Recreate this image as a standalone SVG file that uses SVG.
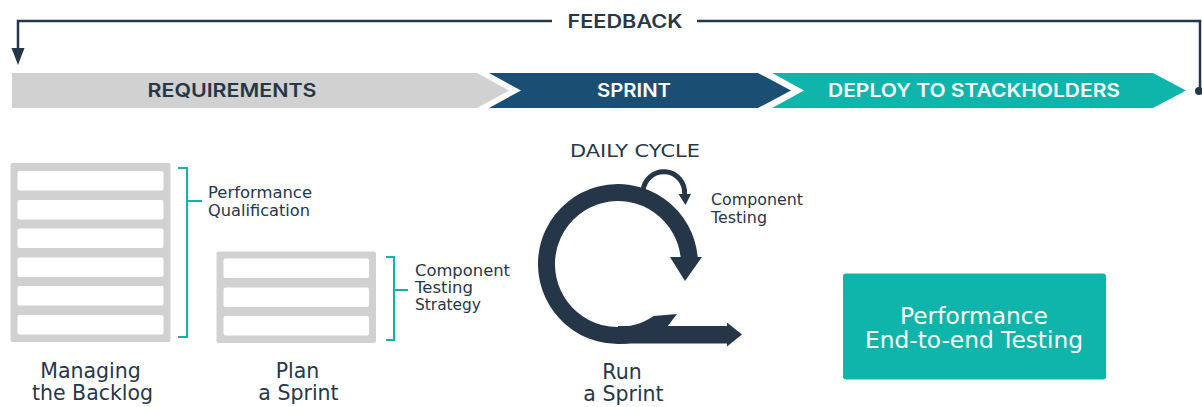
<svg xmlns="http://www.w3.org/2000/svg" width="1202" height="407" viewBox="0 0 1202 407">
<defs>
<style>
.t{font-family:"DejaVu Sans","Liberation Sans",sans-serif;fill:#263749}
.b{font-family:Inter,"DejaVu Sans",sans-serif;font-weight:600}
.w{fill:#ffffff}
.bar{fill:#ffffff}
.box{fill:#d0d1d0}
.br{fill:none;stroke:#12b3a8;stroke-width:2}
.ln{fill:none;stroke:#263749;stroke-width:2.5}
.nav{fill:#253649}
</style>
</defs>
<rect width="1202" height="407" fill="#ffffff"/>

<g id="connectors">
<polyline class="ln" points="552,21 18,21 18,50"/>
<polygon class="nav" points="11.5,48 24.5,48 18,65"/>
<polyline class="ln" points="697,21 1200,21 1200,91"/>
<circle class="nav" cx="1199" cy="91" r="4"/>
</g>
<g id="feedback"><text class="t b" x="625" y="27.5" font-size="18" text-anchor="middle" textLength="115" lengthAdjust="spacingAndGlyphs">FEEDBACK</text></g>

<g id="requirements">
<polygon fill="#d0d1d0" points="12,73 477,73 509,90.5 477,108 12,108"/>
<text class="t b" x="232" y="97" font-size="18.5" text-anchor="middle" textLength="169" lengthAdjust="spacingAndGlyphs">REQUIREMENTS</text>
</g>
<g id="sprint">
<polygon fill="#1a4e73" points="489,73 758,73 791,90.5 758,108 489,108 521,90.5"/>
<text class="t b w" x="634" y="97" font-size="18.5" text-anchor="middle" textLength="74" lengthAdjust="spacingAndGlyphs">SPRINT</text>
</g>
<g id="deploy">
<polygon fill="#0fb5aa" points="772,73 1153,73 1186,90.5 1153,108 772,108 804,90.5"/>
<text class="t b w" x="974" y="97" font-size="18.5" text-anchor="middle" textLength="292" lengthAdjust="spacingAndGlyphs">DEPLOY TO STACKHOLDERS</text>
</g>

<g id="backlog">
<rect class="box" x="10.5" y="163" width="160" height="179" rx="2"/>
<rect class="bar" x="17.5" y="171" width="146" height="19.5" rx="2"/>
<rect class="bar" x="17.5" y="200" width="146" height="19.5" rx="2"/>
<rect class="bar" x="17.5" y="228.5" width="146" height="19.5" rx="2"/>
<rect class="bar" x="17.5" y="257.5" width="146" height="19.5" rx="2"/>
<rect class="bar" x="17.5" y="286" width="146" height="19.5" rx="2"/>
<rect class="bar" x="17.5" y="315" width="146" height="19.5" rx="2"/>
<text class="t" x="90.5" y="378" font-size="20.5" text-anchor="middle">Managing</text>
<text class="t" x="92.5" y="400" font-size="20.5" text-anchor="middle">the Backlog</text>
</g>
<g id="perf-qual">
<polyline class="br" points="178,168 187,168 187,337 178,337"/>
<line class="br" x1="187" y1="201" x2="202" y2="201"/>
<text class="t" x="208" y="198" font-size="15.5" textLength="104" lengthAdjust="spacingAndGlyphs">Performance</text>
<text class="t" x="208" y="215.5" font-size="15.5" textLength="102" lengthAdjust="spacingAndGlyphs">Qualification</text>
</g>

<g id="plan">
<rect class="box" x="216.5" y="251.5" width="159.5" height="91.5" rx="2"/>
<rect class="bar" x="223.5" y="258.5" width="145.5" height="19.5" rx="2"/>
<rect class="bar" x="223.5" y="287.5" width="145.5" height="19.5" rx="2"/>
<rect class="bar" x="223.5" y="316" width="145.5" height="19.5" rx="2"/>
<text class="t" x="297.5" y="378" font-size="20.5" text-anchor="middle">Plan</text>
<text class="t" x="298.5" y="400" font-size="20.5" text-anchor="middle">a Sprint</text>
</g>
<g id="comp-strategy">
<polyline class="br" points="386,257 394,257 394,340 386,340"/>
<line class="br" x1="394" y1="290" x2="408" y2="290"/>
<text class="t" x="415" y="276" font-size="15" textLength="95" lengthAdjust="spacingAndGlyphs">Component</text>
<text class="t" x="415" y="293" font-size="15" textLength="58" lengthAdjust="spacingAndGlyphs">Testing</text>
<text class="t" x="415" y="310" font-size="15" textLength="66" lengthAdjust="spacingAndGlyphs">Strategy</text>
</g>

<g id="daily-cycle">
<text class="t" x="635" y="157" font-size="18.5" text-anchor="middle" textLength="130" lengthAdjust="spacingAndGlyphs">DAILY CYCLE</text>
<path d="M 659.0 322.6 A 71.5 71.5 0 1 1 689.2 257.8" fill="none" stroke="#253649" stroke-width="17"/>
<polygon class="nav" points="670,257 702,257 685,281"/>
<polygon class="nav" points="654,316 677,314 667,327 657,327"/>
<rect class="nav" x="618" y="326" width="110" height="17.5"/>
<polygon class="nav" points="727,322.5 742,334.5 727,346.5"/>
<path d="M 643 191 A 19 19 0 0 1 684.5 194" fill="none" stroke="#253649" stroke-width="5"/>
<polygon class="nav" points="678.5,194 691,194 685.5,205"/>
<text class="t" x="711" y="205" font-size="15.5" textLength="92" lengthAdjust="spacingAndGlyphs">Component</text>
<text class="t" x="711" y="222.5" font-size="15.5" textLength="56" lengthAdjust="spacingAndGlyphs">Testing</text>
<text class="t" x="622" y="379" font-size="20.5" text-anchor="middle">Run</text>
<text class="t" x="623.5" y="401" font-size="20.5" text-anchor="middle">a Sprint</text>
</g>

<g id="e2e">
<rect x="843" y="273.5" width="263" height="106" rx="3" fill="#0fb5aa"/>
<text class="t w" x="974" y="324" font-size="22.5" text-anchor="middle" textLength="148" lengthAdjust="spacingAndGlyphs">Performance</text>
<text class="t w" x="974" y="347.5" font-size="22.5" text-anchor="middle" textLength="218" lengthAdjust="spacingAndGlyphs">End-to-end Testing</text>
</g>
</svg>
